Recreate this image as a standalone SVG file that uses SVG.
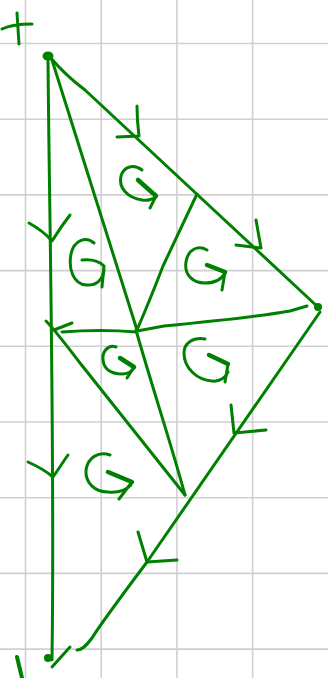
<svg xmlns="http://www.w3.org/2000/svg" width="328" height="678" viewBox="0 0 328 678">
<style>
.grid{stroke:#d0d0d0;stroke-width:1.6;fill:none}
.ink{stroke:#008000;stroke-width:3;fill:none;stroke-linecap:round;stroke-linejoin:round}
.thick{stroke:#008000;stroke-width:4.5;fill:none;stroke-linecap:round;stroke-linejoin:round}
.dot{fill:#008000}
</style>
<rect width="328" height="678" fill="#ffffff"/>
<g id="grid" class="grid">
<path d="M25.5,0V678M101.2,0V678M176.9,0V678M252.6,0V678"/>
<path d="M0,43.5H328M0,119.2H328M0,194.9H328M0,270.6H328M0,346.3H328M0,422H328M0,497.7H328M0,573.4H328M0,649.1H328"/>
</g>
<g id="connectors" class="ink">
<path d="M48,58 C49,200 55,450 52,660"/>
<path d="M50,57 Q65,75 85,90 L319,308"/>
<path d="M320,312 L147,562 C120,598 100,625 92,638 C86,646 82,650 77,650"/>
<path d="M52,60 L137,330"/>
<path d="M137,330 Q152,295 163,266 L197,194"/>
<path d="M137,331 L164,326 Q250,318 290,311 L307,306"/>
<path d="M137,332 Q100,329 62,332"/>
<path d="M72,323 L54,330"/>
<path d="M46,321 C55,330 70,350 80,363 L185,495"/>
<path d="M136,330 C150,380 170,440 185,495"/>
<path d="M52,667 L70,647"/>
</g>
<g id="arrowheads" class="ink">
<path d="M137,106 C137,118 138,128 139,136 M117,137 L139,136"/>
<path d="M256,220 L261,248 M236,245 L261,248"/>
<path d="M231,405 L234,433 L266,430"/>
<path d="M138,532 L147,562 L177,560"/>
<path d="M29,223 C38,228 46,234 52,241 M70,215 C63,224 57,233 52,241"/>
<path d="M28,462 C37,466 46,471 53,477 M68,455 C63,462 58,470 53,477"/>
</g>
<g id="nodes">
<g id="A"><ellipse class="dot" cx="48" cy="56" rx="5.5" ry="4.5"/></g>
<g id="C"><circle class="dot" cx="318" cy="307" r="4"/></g>
<g id="B"><circle class="dot" cx="48" cy="658" r="4"/></g>
</g>
<g id="rotations">
<g id="rot1"><path class="ink" d="M142,170 C134,164 124,166 121,176 C118,188 128,198 142,200 C148,201 154,199 156,196"/><path class="thick" d="M138,180 L156,196"/><path class="ink" d="M156,196 L150,208"/></g>
<g id="rot2"><path class="ink" d="M94,243 C86,236 74,240 71,254 C68,270 74,284 86,285 C96,286 103,280 104,270"/><path class="ink" d="M82,260 C92,259 100,262 104,266 L102,287"/></g>
<g id="rot3"><path class="ink" d="M207,250 C198,245 188,249 186,262 C184,275 193,283 205,283 C215,283 222,279 225,273"/><path class="thick" d="M207,265 L225,272"/><path class="ink" d="M225,272 L222,290"/></g>
<g id="rot4"><path class="ink" d="M116,347 C108,344 102,352 103,360 C104,370 112,374 122,374 C128,374 132,371 134,368"/><path class="thick" d="M120,358 L134,367"/><path class="ink" d="M134,367 L127,378"/></g>
<g id="rot5"><path class="ink" d="M205,339 C193,337 184,343 184,353 C184,368 197,380 212,381 C220,382 226,377 228,372"/><path class="thick" d="M209,355 L228,364"/><path class="ink" d="M228,364 L225,382"/></g>
<g id="rot6"><path class="ink" d="M110,455 C99,451 88,457 86,470 C85,483 95,492 108,492 C118,493 126,490 131,485"/><path class="thick" d="M108,472 L132,482"/><path class="ink" d="M132,482 L119,499"/></g>
</g>
<g id="marks" class="ink">
<path d="M2,29 C10,25 20,24 32,24 M17,13 L19,44"/>
<path d="M17,657 L22,678" style="stroke-width:4"/>
</g>
</svg>
